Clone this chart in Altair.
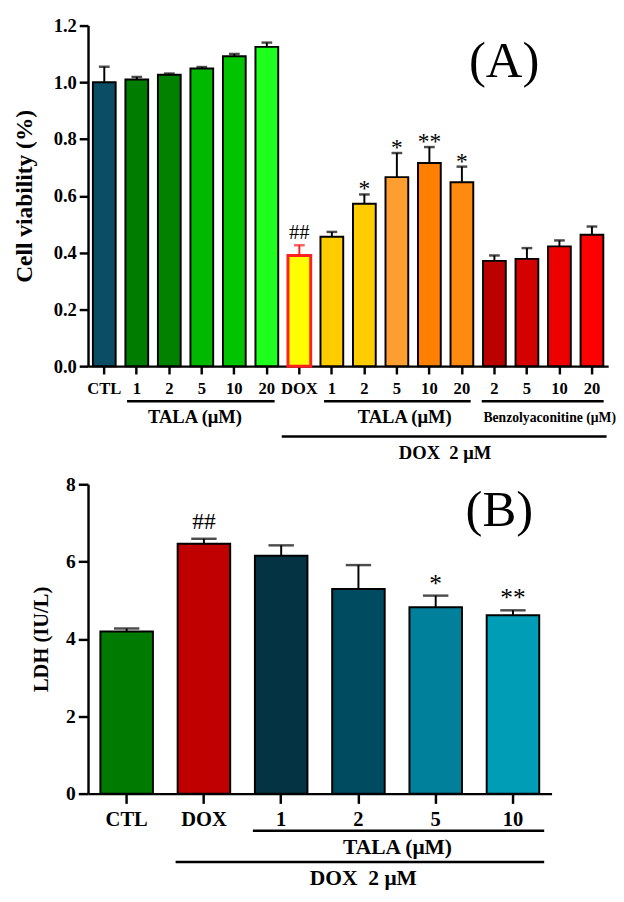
import altair as alt
import pandas as pd

SERIF = "Liberation Serif"

# ---------------- Panel A data ----------------
cats_a = ["CTL", "a1", "a2", "a5", "a10", "a20", "DOX",
          "b1", "b2", "b5", "b10", "b20", "c2", "c5", "c10", "c20"]
means_a = [1.00, 1.010, 1.027, 1.049, 1.092, 1.125, 0.390,
           0.456, 0.572, 0.666, 0.716, 0.648, 0.371, 0.378, 0.422, 0.463]
errs_a = [0.055, 0.009, 0.004, 0.005, 0.008, 0.015, 0.036,
          0.017, 0.033, 0.085, 0.056, 0.055, 0.019, 0.038, 0.021, 0.029]
sig_a = ["", "", "", "", "", "", "##", "", "*", "*", "**", "*", "", "", "", ""]
colors_a = ["#0B4D64", "#007C00", "#008200", "#00B800", "#00C400", "#1EFF1E", "#FFFF00",
            "#FFCC00", "#FFCC00", "#FF9E30", "#FF8000", "#FF8A10",
            "#BB0000", "#D50000", "#EE0000", "#FF0000"]
yticks_a = [0.0, 0.2, 0.4, 0.6, 0.8, 1.0, 1.2]

# ---------------- Panel B data ----------------
cats_b = ["CTL", "DOX", "t1", "t2", "t5", "t10"]
means_b = [4.19, 6.46, 6.15, 5.29, 4.82, 4.61]
errs_b = [0.08, 0.13, 0.27, 0.62, 0.30, 0.13]
sig_b = ["", "##", "", "", "*", "**"]
colors_b = ["#007A00", "#C00000", "#043443", "#004B60", "#00809A", "#009DB7"]
yticks_b = [0, 2, 4, 6, 8]

LABEL_EXPR = "(datum.label == 'CTL' || datum.label == 'DOX') ? datum.label : slice(datum.label, 1)"


def make_panel(cats, means, errs, sig, colors, ydom, yticks, yfmt, ytitle,
               pad_in, pad_out, xlab_size, ylab_size, ytitle_size, ytitle_x,
               xtick, ytick, xlabpad, cap_size, star_size, star_dy, hash_size, hash_dy,
               red_dox):
    df = pd.DataFrame({"cat": cats, "mean": means, "err": errs, "sig": sig, "color": colors})
    df["top"] = df["mean"] + df["err"]

    xenc = alt.X("cat:N",
                 scale=alt.Scale(domain=cats, paddingInner=pad_in, paddingOuter=pad_out),
                 axis=alt.Axis(title=None, labelExpr=LABEL_EXPR, labelAngle=0,
                               labelFontSize=xlab_size, tickSize=xtick, labelPadding=xlabpad))
    yaxis = alt.Axis(title=ytitle, values=yticks, format=yfmt, tickSize=ytick, labelPadding=3,
                     labelFontSize=ylab_size, titleFontSize=ytitle_size, titleX=ytitle_x,
                     titleBaseline="bottom", titleAngle=270)
    yscale = alt.Scale(domain=ydom, nice=False)

    def Y(field):
        return alt.Y(field, scale=yscale, axis=yaxis)

    is_dox = alt.datum.cat == "DOX"
    if red_dox:
        line_col = alt.condition(is_dox, alt.value("#FF2020"), alt.value("black"))
        line_w = alt.condition(is_dox, alt.value(3), alt.value(2))
    else:
        line_col = alt.value("black")
        line_w = alt.value(2)
    base = alt.Chart(df)
    bars = base.mark_bar().encode(
        x=xenc, y=Y("mean:Q"),
        fill=alt.Fill("color:N", scale=None),
        stroke=line_col, strokeWidth=line_w,
    )
    err = base.mark_rule(strokeWidth=2).encode(x=xenc, y=Y("mean:Q"), y2="top:Q", color=line_col)
    cap = base.mark_tick(thickness=2.5, size=cap_size).encode(x=xenc, y=Y("top:Q"), color=line_col)
    stars = base.transform_filter("indexof(datum.sig, '*') >= 0").mark_text(
        font=SERIF, fontSize=star_size, baseline="alphabetic", dy=star_dy, color="black"
    ).encode(x=xenc, y=Y("top:Q"), text="sig:N")
    hashes = base.transform_filter("indexof(datum.sig, '#') >= 0").mark_text(
        font=SERIF, fontSize=hash_size, baseline="alphabetic", dy=hash_dy, color="black"
    ).encode(x=xenc, y=Y("top:Q"), text="sig:N")
    return xenc, Y, [bars, err, cap, stars, hashes]


def group_text(xenc, cat, txt, size, dx, yv, bold=True):
    return alt.Chart(pd.DataFrame({"cat": [cat], "t": [txt]})).mark_text(
        font=SERIF, fontWeight="bold" if bold else "normal", fontSize=size, dx=dx,
        baseline="middle", color="black").encode(x=xenc, y=alt.value(yv), text="t:N")


def underline(xenc, c1, c2, off1, off2, yv):
    return alt.Chart(pd.DataFrame({"cat": [c1], "cat2": [c2]})).mark_rule(
        strokeWidth=2.5, color="black", xOffset=off1, x2Offset=off2).encode(
        x=xenc, x2="cat2:N", y=alt.value(yv))


# ---------------- Panel A ----------------
xa, Ya, layers_a = make_panel(cats_a, means_a, errs_a, sig_a, colors_a, [0, 1.2], yticks_a, ".1f",
                              "Cell viability (%)", 0.3, 0.15, 17, 19, 24, -53,
                              8, 9, 7, 11, 24, 2, 21, -6, True)

tag_a = alt.Chart(pd.DataFrame({"cat": ["c2"], "mean": [1.075], "t": ["(A)"]})).mark_text(
    font=SERIF, fontSize=52, dx=10, baseline="middle", color="black").encode(
    x=xa, y=Ya("mean:Q"), text="t:N")

top = alt.layer(
    *layers_a,
    underline(xa, "a1", "a20", -10, 8, 385),
    underline(xa, "b1", "b20", -8, 9, 385),
    underline(xa, "c2", "c20", -13, 12, 385),
    underline(xa, "DOX", "c20", -18, 15, 421),
    group_text(xa, "a5", "TALA (μM)", 19, -7, 401),
    group_text(xa, "b5", "TALA (μM)", 19, 8, 401),
    group_text(xa, "c10", "Benzolyaconitine (μM)", 14, -10, 402),
    group_text(xa, "b10", "DOX\u00a0\u00a02 μM", 19, 16, 438),
    tag_a,
).properties(width=533, height=349)

# ---------------- Panel B ----------------
xb, Yb, layers_b = make_panel(cats_b, means_b, errs_b, sig_b, colors_b, [0, 8], yticks_b, "d",
                              "LDH (IU/L)", 0.32, 0.16, 21, 20, 21, -38,
                              10, 10, 6, 26, 26, -4, 24, -10, False)

tag_b = alt.Chart(pd.DataFrame({"cat": ["t10"], "mean": [7.32], "t": ["(B)"]})).mark_text(
    font=SERIF, fontSize=52, dx=-14, baseline="middle", color="black").encode(
    x=xb, y=Yb("mean:Q"), text="t:N")

bottom = alt.layer(
    *layers_b,
    underline(xb, "t1", "t10", -29, 32, 355),
    underline(xb, "DOX", "t10", -29, 32, 387),
    group_text(xb, "t2", "TALA (μM)", 22, 40, 372),
    group_text(xb, "t2", "DOX\u00a0\u00a02 μM", 22, 5, 404),
    tag_b,
).properties(width=475, height=317)

chart = alt.vconcat(top, bottom, spacing=121, bounds="flush").properties(
    padding={"left": 5, "top": -2, "right": 0, "bottom": 0}
).configure_view(stroke=None).configure_axis(
    domainColor="black", domainWidth=2.5, tickColor="black", tickWidth=2.5,
    labelColor="black", titleColor="black", labelFont=SERIF, titleFont=SERIF,
    labelFontWeight="bold", titleFontWeight="bold", grid=False
)

chart.save("out.html", embed_options={"renderer": "svg", "actions": False})
